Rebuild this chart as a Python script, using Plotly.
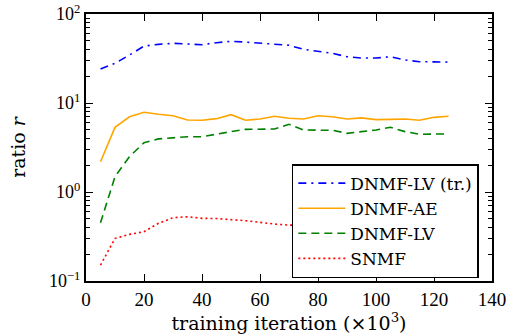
import plotly.graph_objects as go

iters = [5, 10, 15, 20, 25, 30, 35, 40, 45, 50, 55, 60, 65, 70, 75, 80, 85, 90, 95, 100, 105, 110, 115, 120, 125]

dnmf_lv_tr = [24.1, 27.9, 34.6, 43.6, 45.6, 46.8, 46.0, 45.2, 47.6, 49.4, 48.4, 46.8, 45.6, 44.5, 40.1, 37.7,
              36.1, 33.1, 32.0, 32.0, 33.1, 30.4, 29.1, 29.0, 28.8]
dnmf_ae = [2.19, 5.33, 7.0, 7.86, 7.46, 7.2, 6.44, 6.4, 6.67, 7.4, 6.4, 6.6, 7.1, 6.75, 6.6, 7.2,
           7.0, 6.6, 6.8, 6.5, 6.55, 6.6, 6.4, 6.9, 7.1]
dnmf_lv = [0.45, 1.49, 2.5, 3.58, 3.95, 4.1, 4.18, 4.18, 4.49, 4.77, 5.06, 5.06, 5.1, 5.77, 4.98, 4.95,
           4.95, 4.56, 4.77, 4.98, 5.33, 4.77, 4.45, 4.5, 4.5]
snmf = [0.151, 0.301, 0.334, 0.358, 0.445, 0.514, 0.528, 0.506, 0.503, 0.49, 0.476, 0.456, 0.436, 0.425,
        0.42, 0.415, 0.41, 0.41, 0.405, 0.40, 0.40, 0.40, 0.395, 0.395, 0.39]

x_ticks = [0, 20, 40, 60, 80, 100, 120, 140]
y_ticks = [0.1, 1, 10, 100]
y_tick_text = ["10<sup>−1</sup>", "10<sup>0</sup>", "10<sup>1</sup>", "10<sup>2</sup>"]

TICK_FONT = "Liberation Serif"
TEXT_FONT = "DejaVu Serif"

fig = go.Figure()
fig.add_trace(go.Scatter(x=iters, y=dnmf_lv_tr, mode="lines", name="DNMF-LV (tr.)",
                         line=dict(color="blue", width=1.6, dash="8px,5px,2px,5px")))
fig.add_trace(go.Scatter(x=iters, y=dnmf_ae, mode="lines", name="DNMF-AE",
                         line=dict(color="orange", width=1.6)))
fig.add_trace(go.Scatter(x=iters, y=dnmf_lv, mode="lines", name="DNMF-LV",
                         line=dict(color="green", width=1.6, dash="8px,5px")))
fig.add_trace(go.Scatter(x=iters, y=snmf, mode="lines", name="SNMF",
                         line=dict(color="red", width=1.6, dash="2px,3px")))

fig.update_layout(
    width=514, height=336,
    margin=dict(l=86, r=22, t=14, b=55),
    paper_bgcolor="white", plot_bgcolor="white",
    font=dict(family=TICK_FONT, size=18, color="black"),
    showlegend=True,
    legend=dict(x=0.507, y=0.438, xanchor="left", yanchor="top",
                bgcolor="white", bordercolor="black", borderwidth=1.5,
                itemwidth=47,
                font=dict(family=TEXT_FONT, size=17, color="black")),
)
fig.update_xaxes(
    range=[0, 140], tickvals=x_ticks, ticks="inside", ticklen=7, tickwidth=1,
    tickcolor="black", showline=True, linecolor="black", linewidth=2, mirror="allticks",
    showgrid=False, zeroline=False, automargin=False,
    title=dict(text="training iteration (×10<sup>3</sup>)", standoff=2,
               font=dict(family=TEXT_FONT, size=19)),
    tickfont=dict(family=TICK_FONT, size=19),
)
fig.update_yaxes(
    type="log", range=[-1, 2], tickvals=y_ticks, ticktext=y_tick_text,
    ticks="inside", ticklen=7, tickwidth=1, tickcolor="black",
    minor=dict(ticks="inside", ticklen=4, tickwidth=1, tickcolor="black", dtick="D1", showgrid=False),
    showline=True, linecolor="black", linewidth=2, mirror="allticks",
    showgrid=False, zeroline=False, automargin=False,
    title=dict(text="ratio <i>r</i>", standoff=18, font=dict(family=TEXT_FONT, size=19)),
    tickfont=dict(family=TICK_FONT, size=18),
)

fig.write_html("out.html",
               config={"displayModeBar": False},
               post_script="document.body.style.margin='0';document.body.style.overflow='hidden';")
